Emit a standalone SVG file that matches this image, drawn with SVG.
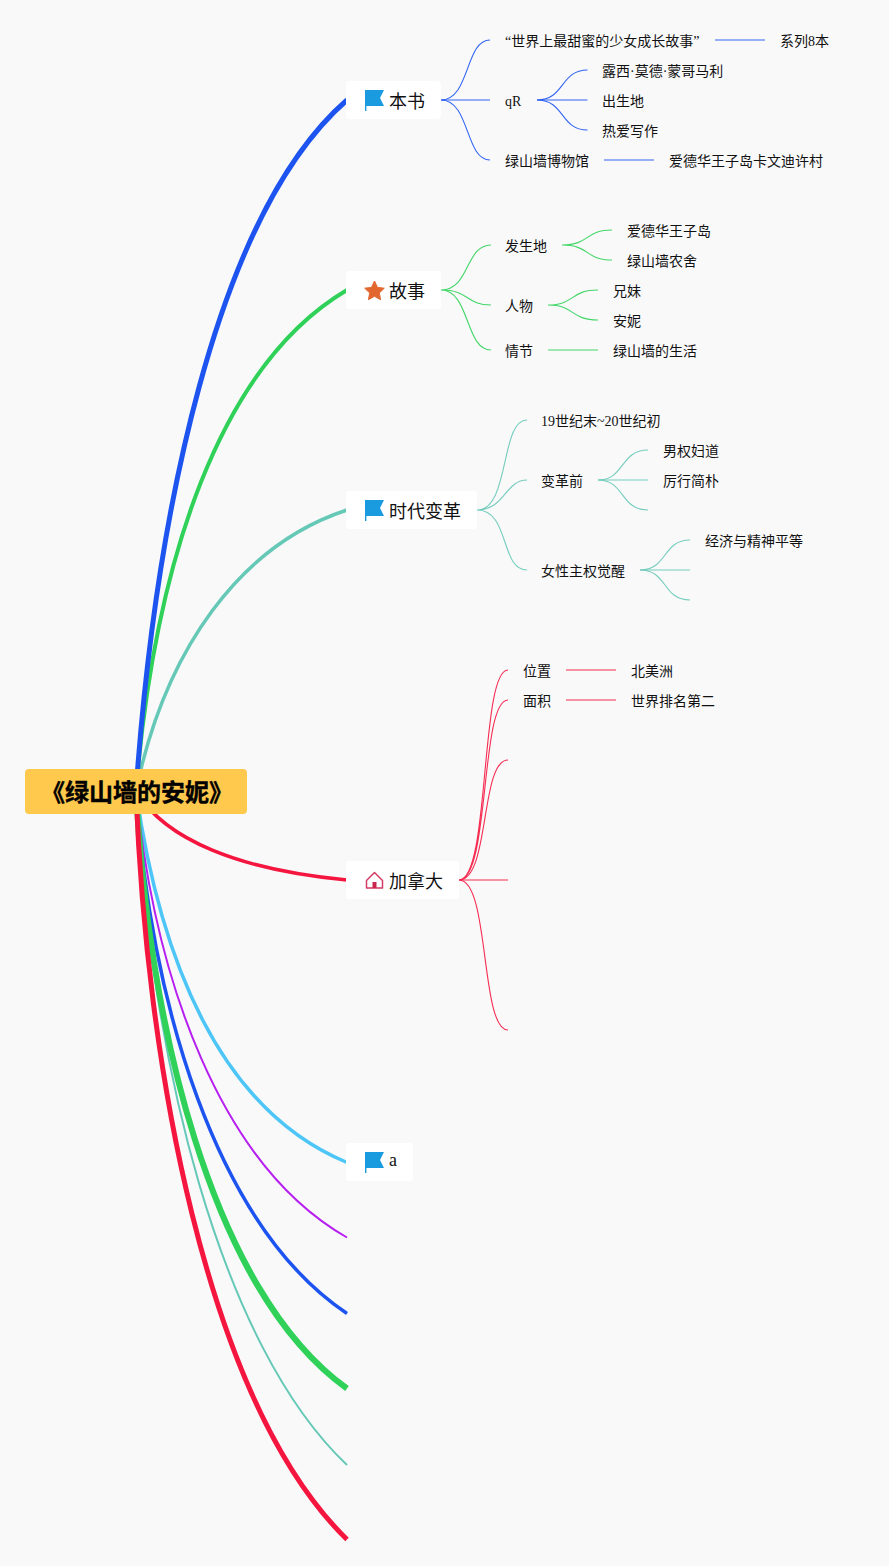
<svg xmlns="http://www.w3.org/2000/svg" width="889" height="1566" viewBox="0 0 889 1566">
<defs>
<path id="flag" d="M0 0H19L15 8 19 16H1.400V21H0Z" fill="#1a9be0"/>
</defs>
<style>
text{font-family:"Liberation Serif","Noto Sans CJK SC",sans-serif;font-size:14px;fill:#111}
text.m{font-size:18px}
.c{fill:none}
.bg{fill:#fff}
.b{stroke:#1d54f0}.g{stroke:#2fd158}.t{stroke:#66c8b6}.r{stroke:#f5163f}.s{stroke:#4dc6f7}.p{stroke:#b71ff0}
.l{stroke-width:1.100;opacity:.9}.h{stroke-width:1.500;opacity:.6}
</style>
<rect width="889" height="1566" fill="#f9f9fa"/>
<g id="connectors" class="c">
<path class="s c" stroke-width="3.500" d="M136 791C160 960 220 1110 347 1162.500"/>
<path class="p c" stroke-width="2" d="M136 791C155 980 220 1165 347 1237.500"/>
<path class="b c" stroke-width="3.500" d="M136 791C150 1000 215 1225 347 1313.500"/>
<path class="t c" stroke-width="2" d="M136 791C150 1060 220 1345 347 1465"/>
<path class="g c" stroke-width="6" d="M136 791C148 1020 210 1290 347 1388.500"/>
<path class="r c" stroke-width="5" d="M136 791C146 1060 205 1400 347 1539.500"/>
<path class="r c" stroke-width="3.500" d="M136 791C165 840 240 870 347 880"/>
<path class="t c" stroke-width="3.500" d="M136 791C165 650 240 545 347 510"/>
<path class="g c" stroke-width="4" d="M136 791C155 560 220 365 347 290"/>
<path class="b c" stroke-width="5" d="M136 791C155 520 215 215 347 100"/>

<path class="b l c" d="M441 100C470 100 465 40 490 40M441 100C470 100 465 160 490 160M537 100C565 100 560 70 587.500 70M537 100C565 100 560 130 587.500 130"/>
<path class="b h c" d="M441 100H490M537 100H587.500M715 40H765M604 160H654"/>
<path class="g l c" d="M441 290C470 290 465 245 491 245M441 290C470 290 465 305 491 305M441 290C470 290 465 350 491 350M562 245C590 245 585 230 612 230M562 245C590 245 585 260 612 260M548 305C575 305 570 290 598 290M548 305C575 305 570 320 598 320"/>
<path class="g h c" d="M548 350H598"/>
<path class="t l c" d="M477 510C510 510 500 420 527 420M477 510C505 510 505 480 527 480M477 510C510 510 500 570 527 570M598 480C625 480 620 450 648 450M598 480C625 480 620 510 648 510M640 570C668 570 662 540 690 540M640 570C668 570 662 600 690 600"/>
<path class="t h c" d="M598 480H648M640 570H690"/>
<path class="r l c" d="M459 880C490 880 480 670 508 670M459 880C490 880 480 700 508 700M459 880C490 880 480 760 508 760M459 880C490 880 480 1030 508 1030"/>
<path class="r h c" d="M459 880H508M566 670H616M566 700H616"/>
</g>
<g id="root"><rect x="25" y="769" width="222" height="45" rx="4" fill="#ffc94d"/><text x="137" y="801" text-anchor="middle" font-weight="bold" stroke="#000" stroke-width=".4" style="font-size:24px;font-family:'Noto Sans CJK SC',sans-serif;fill:#000">《绿山墙的安妮》</text></g>
<g id="n1"><rect class="bg" x="346" y="81" width="95" height="38" rx="3"/><use href="#flag" x="365" y="90"/><text class="m" x="389" y="108">本书</text></g>
<g id="n1a"><text x="505" y="46">“世界上最甜蜜的少女成长故事”</text></g>
<g id="n1a1"><text x="780" y="46">系列8本</text></g>
<g id="n1b"><text x="505" y="106">qR</text></g>
<g id="n1b1"><text x="602" y="76">露西·莫德·蒙哥马利</text></g>
<g id="n1b2"><text x="602" y="106">出生地</text></g>
<g id="n1b3"><text x="602" y="136">热爱写作</text></g>
<g id="n1c"><text x="505" y="166">绿山墙博物馆</text></g>
<g id="n1c1"><text x="669" y="166">爱德华王子岛卡文迪许村</text></g>
<g id="n2"><rect class="bg" x="346" y="271" width="95" height="38" rx="3"/><path d="M374.500 281l3 6.400 6.800.8-5 4.700 1.300 6.800-6.100-3.400-6.100 3.400 1.300-6.800-5-4.700 6.800-.8z" fill="#e2672f" stroke="#e2672f" stroke-linejoin="round"/><text class="m" x="389" y="298">故事</text></g>
<g id="n2a"><text x="505" y="251">发生地</text></g>
<g id="n2a1"><text x="627" y="236">爱德华王子岛</text></g>
<g id="n2a2"><text x="627" y="266">绿山墙农舍</text></g>
<g id="n2b"><text x="505" y="311">人物</text></g>
<g id="n2b1"><text x="613" y="296">兄妹</text></g>
<g id="n2b2"><text x="613" y="326">安妮</text></g>
<g id="n2c"><text x="505" y="356">情节</text></g>
<g id="n2c1"><text x="613" y="356">绿山墙的生活</text></g>
<g id="n3"><rect class="bg" x="346" y="491" width="131" height="38" rx="3"/><use href="#flag" x="365" y="500"/><text class="m" x="389" y="518">时代变革</text></g>
<g id="n3a"><text x="541" y="426">19世纪末~20世纪初</text></g>
<g id="n3b"><text x="541" y="486">变革前</text></g>
<g id="n3b1"><text x="663" y="456">男权妇道</text></g>
<g id="n3b2"><text x="663" y="486">厉行简朴</text></g>
<g id="n3c"><text x="541" y="576">女性主权觉醒</text></g>
<g id="n3c1"><text x="705" y="546">经济与精神平等</text></g>
<g id="n4"><rect class="bg" x="346" y="861" width="113" height="38" rx="3"/><path d="M366.500 880.500L374.500 872.500l8 8v7.500h-16z" fill="#fff" stroke="#d43d63" stroke-width="1.500" stroke-linejoin="round"/><rect x="372.500" y="882" width="4" height="6" fill="#c8284f"/><text class="m" x="389" y="888">加拿大</text></g>
<g id="n4a"><text x="523" y="676">位置</text></g>
<g id="n4a1"><text x="631" y="676">北美洲</text></g>
<g id="n4b"><text x="523" y="706">面积</text></g>
<g id="n4b1"><text x="631" y="706">世界排名第二</text></g>
<g id="n5"><rect class="bg" x="346" y="1143" width="67" height="38" rx="3"/><use href="#flag" x="365" y="1152"/><text x="389" y="1166" style="font-size:18px">a</text></g>
</svg>
